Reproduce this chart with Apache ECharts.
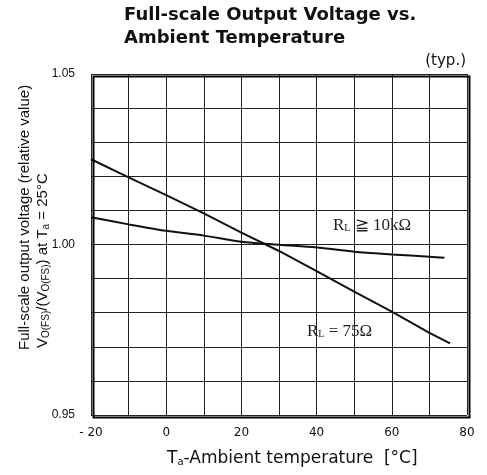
<!DOCTYPE html>
<html>
<head>
<meta charset="utf-8">
<script src="https://cdn.jsdelivr.net/npm/echarts@6/dist/echarts.min.js"></script>
<style>
  html, body { margin: 0; padding: 0; background: #fff; }
  #main { width: 487px; height: 475px; }
</style>
</head>
<body>
<div id="main"></div>
<script>
// curve data
var temps10k = [-20, -10, 0, 10, 20, 30, 40, 50, 60, 70, 74];
var vals10k = [1.008, 1.0059, 1.004, 1.0026, 1.0008, 0.9999, 0.9991, 0.9979, 0.9971, 0.9964, 0.9961];

var temps75 = [-20, -10, 0, 10, 20, 30, 40, 50, 60, 70, 75.5];
var vals75 = [1.025, 1.0197, 1.0145, 1.0091, 1.0035, 0.9981, 0.9922, 0.9862, 0.9803, 0.9741, 0.971];

var xTickLabels = [-20, 0, 20, 40, 60, 80];
var yTickLabels = ['0.95', '1.00', '1.05'];

function pairs(xs, ys) {
    return xs.map(function (x, i) { return [x, ys[i]]; });
}

var myChart = echarts.init(document.getElementById('main'));
var font = 'Liberation Sans, Arial, sans-serif';
var wide = 'DejaVu Sans, Verdana, sans-serif';
var serif = 'Liberation Serif, Times New Roman, serif';

var option = {
    backgroundColor: '#fff',
    animation: false,
    grid: { left: 91, right: 20, top: 74, bottom: 60 },
    xAxis: {
        type: 'value',
        min: -20, max: 80, interval: 10,
        axisLine: { show: false },
        axisTick: { show: false },
        splitLine: { lineStyle: { color: '#222', width: 1 } },
        axisLabel: {
            color: '#111', fontFamily: wide, fontSize: 12, margin: 12,
            formatter: function (v) {
                if (xTickLabels.indexOf(v) < 0) return '';
                return v < 0 ? '- ' + Math.abs(v) : String(v);
            }
        }
    },
    yAxis: {
        type: 'value',
        min: 0.95, max: 1.05, interval: 0.01,
        axisLine: { show: false },
        axisTick: { show: false },
        splitLine: { lineStyle: { color: '#222', width: 1 } },
        axisLabel: {
            color: '#111', fontFamily: font, fontSize: 12, margin: 16,
            formatter: function (v) {
                var s = v.toFixed(2);
                return yTickLabels.indexOf(s) >= 0 ? s : '';
            }
        }
    },
    series: [
        {
            name: 'RL>=10k',
            type: 'line',
            data: pairs(temps10k, vals10k),
            symbol: 'none',
            smooth: 0.3,
            lineStyle: { color: '#111', width: 2 }
        },
        {
            name: 'RL=75',
            type: 'line',
            data: pairs(temps75, vals75),
            symbol: 'none',
            lineStyle: { color: '#111', width: 2 }
        }
    ],
    graphic: [
        // plot frame
        {
            type: 'rect', left: 91, top: 74, z: 100,
            shape: { width: 376, height: 341 },
            style: { fill: null, stroke: '#000', lineWidth: 2 }
        },
        {
            type: 'text', left: 124, top: 4,
            style: {
                text: 'Full-scale Output Voltage vs.\nAmbient Temperature',
                font: 'bold 18px ' + wide, fill: '#111', lineHeight: 23
            }
        },
        {
            type: 'text', right: 21, top: 54,
            style: { text: '(typ.)', font: '15px ' + wide, fill: '#111' }
        },
        {
            type: 'text', left: 167, top: 450,
            style: {
                text: 'T{s|a}-Ambient temperature  [°C]',
                font: '17px ' + wide, fill: '#111',
                rich: { s: { fontSize: 10, fontFamily: wide, padding: [8, 0, 0, 0] } }
            }
        },
        {
            type: 'text', x: 25, y: 350, rotation: Math.PI / 2,
            style: {
                text: 'Full-scale output voltage (relative value)',
                font: '15px ' + font, fill: '#111',
                align: 'left', verticalAlign: 'middle'
            }
        },
        {
            type: 'text', x: 43, y: 348, rotation: Math.PI / 2,
            style: {
                text: 'V{s|O(FS)}/(V{s|O(FS)}) at T{s|a} = 25°C',
                font: '15px ' + font, fill: '#111',
                align: 'left', verticalAlign: 'middle',
                rich: { s: { fontSize: 10, fontFamily: font, padding: [6, 0, 0, 0] } }
            }
        },
        {
            type: 'text', left: 333, top: 217,
            style: {
                text: 'R{s|L} ≧ 10kΩ',
                font: '17px ' + serif, fill: '#222',
                rich: { s: { fontSize: 10, fontFamily: serif, padding: [6, 0, 0, 0] } }
            }
        },
        {
            type: 'text', left: 307, top: 323,
            style: {
                text: 'R{s|L} = 75Ω',
                font: '17px ' + serif, fill: '#222',
                rich: { s: { fontSize: 10, fontFamily: serif, padding: [6, 0, 0, 0] } }
            }
        }
    ]
};

myChart.setOption(option);
</script>
</body>
</html>
